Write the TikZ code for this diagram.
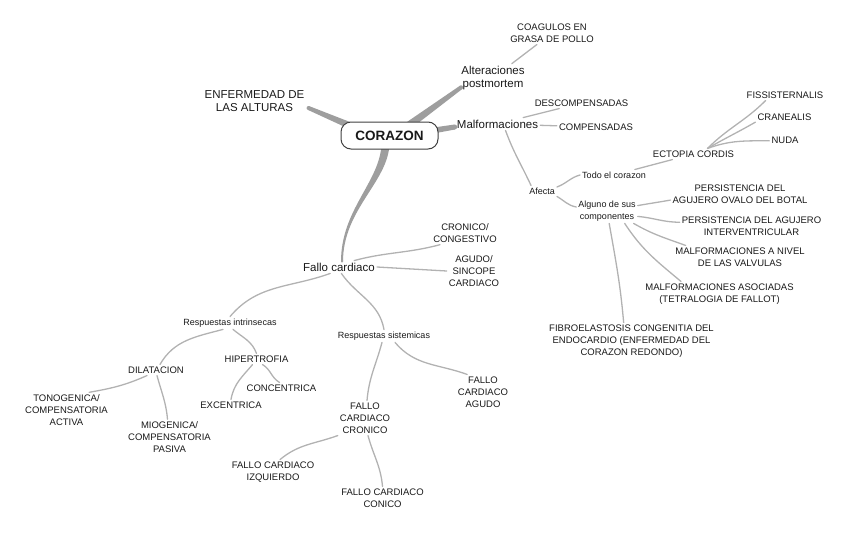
\documentclass[tikz,border=0pt]{standalone}
\usepackage{fontspec}
\setmainfont{Liberation Sans}
\usetikzlibrary{calc,backgrounds}
\definecolor{twiggray}{gray}{0.70}
\definecolor{boughgray}{gray}{0.62}
\tikzset{basic/.style={inner sep=2pt,align=center,text=black!90}}
\tikzset{root/.style={basic,draw=black!75,line width=1pt,fill=white,
                      rounded corners=10pt,minimum width=97pt,minimum height=27pt,
                      font=\fontsize{13.5}{16}\selectfont\bfseries}}
\tikzset{topic/.style={basic,font=\fontsize{11.5}{13.5}\selectfont}}
\tikzset{leaf/.style={basic,font=\fontsize{9.5}{12}\selectfont}}
\tikzset{note/.style={basic,font=\fontsize{9}{12}\selectfont}}
\tikzset{twig/.style={draw=twiggray,line width=1.3pt,line cap=round}}
\tikzset{bough/.style={fill=boughgray}}
% straight tapered branch between two named coordinates
\newcommand{\bough}[4]{\fill[bough] ($(#1)!#3!90:(#2)$) -- ($(#2)!#4!-90:(#1)$)
                              -- ($(#2)!#4!90:(#1)$) -- ($(#1)!#3!-90:(#2)$) -- cycle;
                       \fill[bough] (#2) circle (#4);}

\begin{document}
\begin{tikzpicture}[x=1pt,y=-1pt]
    \useasboundingbox (0,0) rectangle (848,533);
    % Centre
    \node[root] (root) at (389.5,135.5) {CORAZON};
    \node[topic] (enf) at (254.5,101) {ENFERMEDAD DE\\LAS ALTURAS};
    \node[topic] (alt) at (493,78) {Alteraciones\\postmortem};
    \node[topic] (malf) at (497.5,124) {Malformaciones};
    \node[topic] (fallo) at (339,267) {Fallo cardiaco};
    % Alteraciones postmortem
    \node[leaf] (coag) at (552,33) {COAGULOS EN\\GRASA DE POLLO};
    % Malformaciones
    \node[leaf] (desc) at (581.5,103) {DESCOMPENSADAS};
    \node[leaf] (comp) at (596,127) {COMPENSADAS};
    \node[note] (afecta) at (542,191) {Afecta};
    \node[note] (todo) at (614,175) {Todo el corazon};
    \node[note] (alguno) at (607,211) {Alguno de sus\\componentes};
    \node[leaf] (ecto) at (693.5,154) {ECTOPIA CORDIS};
    \node[leaf] (fiss) at (785,95) {FISSISTERNALIS};
    \node[leaf] (cran) at (784.5,117) {CRANEALIS};
    \node[leaf] (nuda) at (785,140) {NUDA};
    \node[leaf] (pers) at (740,194) {PERSISTENCIA DEL\\AGUJERO OVALO DEL BOTAL};
    \node[leaf] (inter) at (751.5,226) {PERSISTENCIA DEL AGUJERO\\INTERVENTRICULAR};
    \node[leaf] (valv) at (740,257) {MALFORMACIONES A NIVEL\\DE LAS VALVULAS};
    \node[leaf] (asoc) at (719.5,294) {MALFORMACIONES ASOCIADAS\\(TETRALOGIA DE FALLOT)};
    \node[leaf] (fibro) at (631.5,341) {FIBROELASTOSIS CONGENITIA DEL\\ENDOCARDIO (ENFERMEDAD DEL\\CORAZON REDONDO)};
    % Fallo cardiaco
    \node[leaf] (cron) at (465,233) {CRONICO/\\CONGESTIVO};
    \node[leaf] (agudo) at (474,271) {AGUDO/\\SINCOPE\\CARDIACO};
    \node[note] (rint) at (230,323) {Respuestas intrinsecas};
    \node[note] (rsis) at (384,336) {Respuestas sistemicas};
    \node[leaf] (dilat) at (156,370) {DILATACION};
    \node[leaf] (hiper) at (256.5,359) {HIPERTROFIA};
    \node[leaf] (conc) at (281.5,388) {CONCENTRICA};
    \node[leaf] (exc) at (231,405) {EXCENTRICA};
    \node[leaf] (tono) at (66.5,410) {TONOGENICA/\\COMPENSATORIA\\ACTIVA};
    \node[leaf] (mio) at (169.5,437) {MIOGENICA/\\COMPENSATORIA\\PASIVA};
    \node[leaf] (fagudo) at (483,392) {FALLO\\CARDIACO\\AGUDO};
    \node[leaf] (fcron) at (365,418) {FALLO\\CARDIACO\\CRONICO};
    \node[leaf] (izq) at (273,472) {FALLO CARDIACO\\IZQUIERDO};
    \node[leaf] (conico) at (382.5,498) {FALLO CARDIACO\\CONICO};
    % Main branches, behind the centre box
    \begin{scope}[on background layer]
        \coordinate (enfA) at ($(root.west)+(14,-8)$);
        \coordinate (enfB) at ($(enf.east)+(2,7)$);
        \bough{enfA}{enfB}{3.5pt}{2pt}
        \coordinate (altA) at ($(root.north)+(15,7)$);
        \coordinate (altB) at ($(alt.south west)+(2,-5)$);
        \bough{altA}{altB}{4pt}{2pt}
        \coordinate (malfA) at ($(root.east)+(-8,-4.5)$);
        \coordinate (malfB) at ($(malf.west)+(0,3)$);
        \bough{malfA}{malfB}{3pt}{2.5pt}
        \coordinate (falloA) at ($(root.south)+(-4,-5)$);
        \coordinate (falloB) at ($(fallo.north)+(3,1)$);
        \fill[bough] ([xshift=-4pt]falloA) .. controls +(-2,38) and +(0,-52) .. ([xshift=-1pt]falloB)
            -- ([xshift=1pt]falloB) .. controls +(0,-52) and +(-2,38) .. ([xshift=4pt]falloA) -- cycle;
        \fill[bough] (falloB) circle (1pt);
    \end{scope}
    % Alteraciones postmortem
    \draw[twig] (alt) -- (coag);
    % Malformaciones
    \draw[twig] (malf) -- (desc);
    \draw[twig] (malf) -- (comp);
    \draw[twig] ([xshift=8pt]malf.south) to[out=-70,in=115] ([xshift=4pt]afecta.north west);
    \draw[twig] (afecta.15) to[out=20,in=195] (todo.west);
    \draw[twig] (afecta.-20) to[out=-30,in=170] ([yshift=4pt]alguno.west);
    \draw[twig] (todo) -- (ecto);
    \foreach \t/\a/\o/\i in {fiss/196/45/225,cran/190/30/210,nuda/183/20/180}{%
        \draw[twig] ([xshift=14pt]ecto.north) to[out=\o,in=\i] (\t.\a);
      }
    \foreach \t/\s/\e/\o/\i in {pers/10/185/10/190,inter/-10/177/-5/180,
                                valv/-25/168/-30/160,asoc/-35/162/-57/140,
                                fibro/-80/113/-80/95}{%
        \draw[twig] (alguno.\s) to[out=\o,in=\i] (\t.\e);
      }
    % Fallo cardiaco
    \draw[twig] (fallo.23) to[out=15,in=195] (cron.205);
    \draw[twig] (fallo.east) -- (agudo.west);
    \draw[twig] (fallo.216) to[out=200,in=50] (rint.north);
    \draw[twig] (fallo.-70) to[out=-55,in=100] (rsis.north);
    \draw[twig] ([xshift=-7pt]rint.south) to[out=195,in=60] ([xshift=4pt]dilat.north);
    \draw[twig] ([xshift=3pt]rint.south) to[out=-40,in=110] (hiper.north);
    \draw[twig] ([xshift=-9pt]dilat.south) to[out=204,in=10] (tono.38);
    \draw[twig] ([xshift=1pt]dilat.south) to[out=-75,in=95] ([xshift=-2pt]mio.north);
    \draw[twig] ([xshift=6pt]hiper.south) to[out=-30,in=150] ([xshift=-2pt]conc.north);
    \draw[twig] ([xshift=-4pt]hiper.south) to[out=-130,in=80] (exc.north);
    \draw[twig] ([xshift=-2pt]rsis.south) to[out=-105,in=85] ([xshift=2pt]fcron.north);
    \draw[twig] ([xshift=11pt]rsis.south) to[out=-50,in=160] (fagudo.132);
    \draw[twig] (fcron.south west) to[out=200,in=40] ([xshift=7pt]izq.north);
    \draw[twig] ([xshift=3pt]fcron.south) to[out=-75,in=95] (conico.north);
\end{tikzpicture}
\end{document}
